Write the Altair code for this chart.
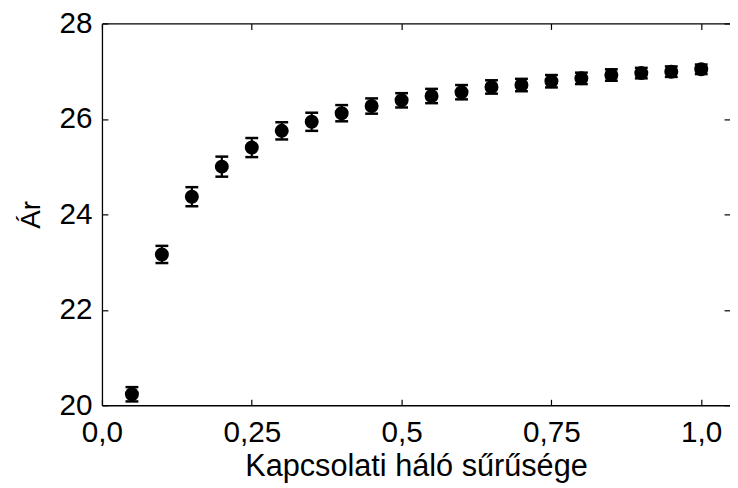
import altair as alt
import pandas as pd

# ---- data ----
x_vals = [0.05, 0.10, 0.15, 0.20, 0.25, 0.30, 0.35, 0.40, 0.45, 0.50,
          0.55, 0.60, 0.65, 0.70, 0.75, 0.80, 0.85, 0.90, 0.95, 1.00]
y_vals = [20.23, 23.16, 24.37, 25.00, 25.40, 25.75, 25.94, 26.12, 26.27, 26.39,
          26.48, 26.56, 26.67, 26.71, 26.79, 26.85, 26.92, 26.96, 26.99, 27.04]
err_vals = [0.15, 0.18, 0.20, 0.21, 0.20, 0.18, 0.19, 0.17, 0.16, 0.15,
            0.15, 0.15, 0.14, 0.13, 0.13, 0.12, 0.12, 0.11, 0.11, 0.10]

x_ticks = [0.0, 0.25, 0.5, 0.75, 1.0]
x_tick_labels = ["0,0", "0,25", "0,5", "0,75", "1,0"]
y_ticks = [20, 22, 24, 26, 28]

x_title = "Kapcsolati háló sűrűsége"
y_title = "Ár"

df = pd.DataFrame({
    "x": x_vals,
    "y": y_vals,
    "lo": [v - e for v, e in zip(y_vals, err_vals)],
    "hi": [v + e for v, e in zip(y_vals, err_vals)],
})

W = 635
H = 386
FONT = "Liberation Sans"
LFS = 30
TFS = 31

label_expr = "[" + ",".join("'%s'" % s for s in x_tick_labels) + "][round(datum.value*4)]"

xs = alt.Scale(domain=[0, 1.048], nice=False, zero=False)
ys = alt.Scale(domain=[20, 28], nice=False, zero=False)

x_main = alt.Axis(orient="bottom", values=x_ticks, labelExpr=label_expr, ticks=False,
                  domain=True, domainColor="black", domainWidth=1.3,
                  labelFont=FONT, labelFontSize=LFS, labelColor="black", labelPadding=12.5,
                  title=x_title, titleFont=FONT, titleFontSize=TFS, titleFontWeight="normal",
                  titleColor="black", titlePadding=5, grid=False, labelFlush=False)
x_in_bottom = alt.Axis(orient="top", offset=-H, values=x_ticks, ticks=True, tickSize=6,
                       tickColor="black", tickWidth=1.2, labels=False, domain=False,
                       title=None, grid=False)
x_top = alt.Axis(orient="bottom", offset=-H, values=x_ticks, ticks=True, tickSize=6,
                 tickColor="black", tickWidth=1.2, labels=False, domain=True,
                 domainColor="black", domainWidth=1.3, title=None, grid=False)

y_main = alt.Axis(orient="left", values=y_ticks, ticks=False, domain=True,
                  domainColor="black", domainWidth=1.3,
                  labelFont=FONT, labelFontSize=LFS, labelColor="black", labelPadding=10,
                  title=y_title, titleFont=FONT, titleFontSize=28, titleFontWeight="normal",
                  titleColor="black", titlePadding=14, grid=False, labelFlush=False)
y_in_left = alt.Axis(orient="right", offset=-W, values=y_ticks, ticks=True, tickSize=6,
                     tickColor="black", tickWidth=1.2, labels=False, domain=False,
                     title=None, grid=False)
y_right = alt.Axis(orient="left", offset=-W, values=y_ticks, ticks=True, tickSize=6,
                   tickColor="black", tickWidth=1.2, labels=False, domain=False,
                   title=None, grid=False)

base = alt.Chart(df)

points = base.mark_circle(size=200, color="black", opacity=1).encode(
    x=alt.X("x:Q", scale=xs, axis=x_main),
    y=alt.Y("y:Q", scale=ys, axis=y_main),
)

bars = base.mark_rule(color="black", strokeWidth=2.2).encode(
    x=alt.X("x:Q", scale=xs, axis=x_in_bottom),
    y=alt.Y("lo:Q", scale=ys, axis=y_in_left),
    y2="hi:Q",
)

caps_lo = base.mark_tick(color="black", orient="horizontal", size=13, thickness=2.5, opacity=1).encode(
    x=alt.X("x:Q", scale=xs, axis=x_top),
    y=alt.Y("lo:Q", scale=ys, axis=y_right),
)

caps_hi = base.mark_tick(color="black", orient="horizontal", size=13, thickness=2.5, opacity=1).encode(
    x=alt.X("x:Q", scale=xs, axis=None),
    y=alt.Y("hi:Q", scale=ys, axis=None),
)

chart = alt.layer(bars, caps_lo, caps_hi, points).resolve_axis(
    x="independent", y="independent"
).properties(
    width=W,
    height=H,
    autosize=alt.AutoSizeParams(type="none"),
    padding={"left": 95, "top": 13, "right": 0, "bottom": 80},
    background="white",
).configure_view(stroke=None)

chart.save("out.html", embed_options={"renderer": "svg", "actions": False})
